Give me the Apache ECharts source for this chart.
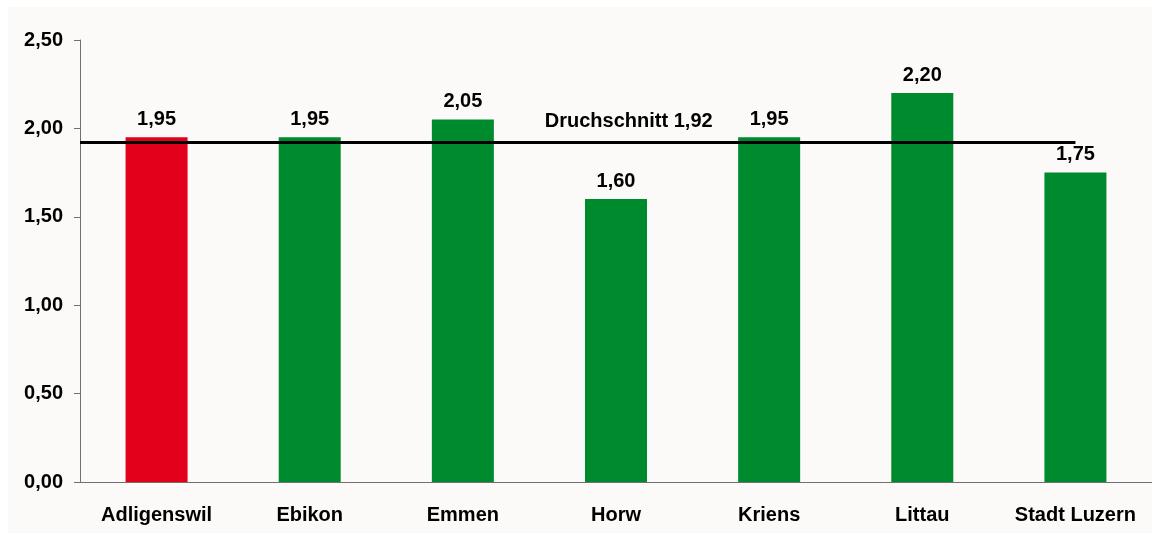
<!DOCTYPE html>
<html>
<head>
<meta charset="utf-8">
<title>Durchschnitt</title>
<style>
  html, body { margin: 0; padding: 0; background: #fff; }
  #box { width: 1152px; height: 535px; }
</style>
</head>
<body>
<div id="box"></div>
<script src="https://cdn.jsdelivr.net/npm/echarts@6/dist/echarts.min.js"></script>
<script>
// data
var categories = ['Adligenswil', 'Ebikon', 'Emmen', 'Horw', 'Kriens', 'Littau', 'Stadt Luzern'];
var values = [1.95, 1.95, 2.05, 1.60, 1.95, 2.20, 1.75];
var average = 1.92;
var averageLabel = 'Druchschnitt';
var highlighted = 'Adligenswil';
var yTicks = [0, 0.5, 1, 1.5, 2, 2.5];

var font = 'Liberation Sans, Arial, sans-serif';
function fmt(v) { return v.toFixed(2).replace('.', ','); }

var chart = echarts.init(document.getElementById('box'));
chart.setOption({
  backgroundColor: '#ffffff',
  animation: false,
  graphic: [{
    type: 'rect',
    z: -10,
    shape: { x: 8, y: 7, width: 1144, height: 526 },
    style: { fill: '#fbfaf8' }
  }],
  grid: { left: 80, right: 0, top: 40, bottom: 53 },
  xAxis: {
    type: 'category',
    data: categories,
    axisLine: { lineStyle: { color: '#6f6f6f', width: 1 } },
    axisTick: { interval: 0, length: 5, lineStyle: { color: '#6f6f6f' } },
    axisLabel: { interval: 0, hideOverlap: false, margin: 23, color: '#000', fontSize: 20, fontWeight: 'bold', fontFamily: font }
  },
  yAxis: {
    type: 'value',
    min: yTicks[0],
    max: yTicks[yTicks.length - 1],
    interval: 0.5,
    splitLine: { show: false },
    axisLine: { show: true, lineStyle: { color: '#6f6f6f', width: 1 } },
    axisTick: { show: true, length: 6, lineStyle: { color: '#6f6f6f' } },
    axisLabel: { margin: 17, color: '#000', fontSize: 20, fontWeight: 'bold', fontFamily: font, formatter: fmt }
  },
  series: [{
    type: 'bar',
    data: values,
    barWidth: 62,
    itemStyle: {
      color: function (p) { return p.name === highlighted ? '#e2001a' : '#008a2e'; }
    },
    label: {
      show: true,
      position: 'top',
      distance: 8,
      color: '#000',
      fontSize: 20,
      fontWeight: 'bold',
      fontFamily: font,
      formatter: function (p) { return fmt(p.value); }
    },
    markLine: {
      silent: true,
      symbol: 'none',
      lineStyle: { color: '#000', width: 3, type: 'solid' },
      label: {
        show: true,
        position: 'middle',
        distance: 11,
        offset: [51, 0],
        color: '#000',
        fontSize: 20,
        fontWeight: 'bold',
        fontFamily: font,
        formatter: averageLabel + ' ' + fmt(average)
      },
      data: [[
        { x: 80, yAxis: average },
        { xAxis: categories.length - 1, yAxis: average }
      ]]
    }
  }]
});
</script>
</body>
</html>
